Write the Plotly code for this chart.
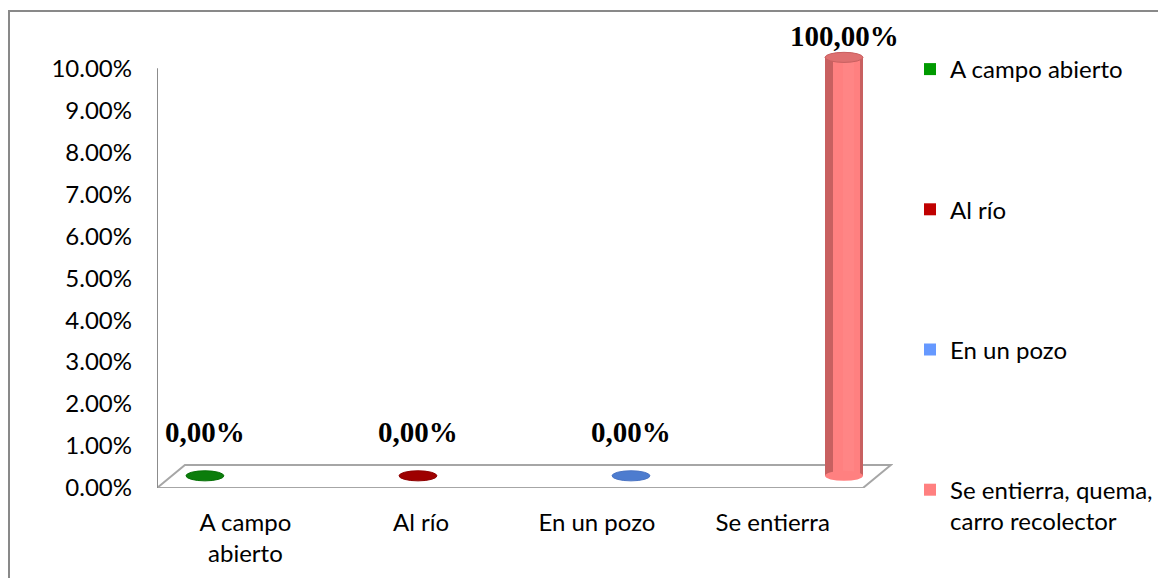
import plotly.graph_objects as go

# data
categories = ["A campo<br>abierto", "Al río", "En un pozo", "Se entierra"]
legend_names = ["A campo abierto", "Al río", "En un pozo",
                "Se entierra, quema,<br>carro recolector"]
values = [0.0, 0.0, 0.0, 1.0]
y_ticks = [0.00, 0.01, 0.02, 0.03, 0.04, 0.05, 0.06, 0.07, 0.08, 0.09, 0.10]

# style
body_colors = ["#009A00", "#C00000", "#6699FF", "#FF8080"]
edge_colors = ["#067006", "#8E0000", "#4A74C4", "#C86060"]
top_colors = ["#0B7D0B", "#9E0000", "#4D7CCF", "#DE7070"]

# the page body has an 8px margin, so the figure is drawn 8px in from the corner
OFF = 8
W, H = 1166 - 2 * OFF, 586 - 2 * OFF
L, T = 157 - OFF, 41 - OFF
R, B = W - (893 - OFF), H - (488 - OFF)
x_range = [-0.225, 3.23]
y_range = [0, 0.1065]
y_max = 0.10
cap = 0.1026        # where a clipped bar ends
base = 0.0029       # bars stand on the middle of the floor
bar_w = 0.178
ell_h = 0.0012
depth_x, depth_y = 0.131, 0.0055


def px_x(p):
    # screen pixel -> paper x
    return (p - OFF - L) / (W - L - R)


def px_y(p):
    # screen pixel -> paper y
    return (H - B - (p - OFF)) / (H - T - B)


fig = go.Figure()
shown = [min(v, cap - base) for v in values]

for i, (name, v) in enumerate(zip(legend_names, shown)):
    # darker rim behind the body gives the cylinder look
    fig.add_trace(go.Bar(x=[i], y=[v], base=[base], width=bar_w,
                         marker=dict(color=edge_colors[i], line_width=0),
                         showlegend=False, hoverinfo="skip"))
    fig.add_trace(go.Bar(x=[i + 0.012], y=[v], base=[base], width=bar_w * 0.72,
                         marker=dict(color=body_colors[i], line_width=0),
                         name=name, legendgroup=str(i)))
    fig.add_trace(go.Bar(x=[i + 0.02], y=[v], base=[base], width=bar_w * 0.3,
                         marker=dict(color="#FF8A8A", opacity=0.5, line_width=0),
                         showlegend=False, hoverinfo="skip"))

shapes = []
# floor
x0, x1 = x_range[0], 3.089
shapes.append(dict(type="path", xref="x", yref="y", layer="below",
                   path=f"M{x0},0 L{x0 + depth_x},{depth_y} L{x1 + depth_x},{depth_y} "
                        f"L{x1},0 Z",
                   line=dict(color="#A6A6A6", width=2), fillcolor="white"))
# y axis line
shapes.append(dict(type="line", xref="x", yref="y", x0=x0, x1=x0, y0=0, y1=y_max,
                   line=dict(color="#8C8C8C", width=2)))
# ellipses: bottom of cylinder and top face
for i, v in enumerate(shown):
    if v > 0:
        shapes.append(dict(type="circle", xref="x", yref="y",
                           x0=i - bar_w / 2, x1=i + bar_w / 2,
                           y0=base - ell_h, y1=base + ell_h,
                           fillcolor=body_colors[i], line_width=0))
    top = base + v
    shapes.append(dict(type="circle", xref="x", yref="y",
                       x0=i - bar_w / 2, x1=i + bar_w / 2,
                       y0=top - ell_h, y1=top + ell_h,
                       fillcolor=top_colors[i],
                       line=dict(color=edge_colors[i], width=1)))
# chart border (right and bottom edges fall outside the picture)
shapes.append(dict(type="rect", xref="paper", yref="paper",
                   x0=px_x(OFF + 1), x1=px_x(1200), y0=px_y(620), y1=px_y(11),
                   line=dict(color="#898989", width=2)))

annotations = []
for i, (v, s) in enumerate(zip(values, shown)):
    txt = f"{v * 100:.2f}".replace(".", ",") + "%"
    annotations.append(dict(x=i, y=base + s, xref="x", yref="y", text=txt,
                            showarrow=False, yshift=21 if v > cap else 44,
                            font=dict(family="Liberation Serif", size=29,
                                      color="black", weight="bold")))

front = [0.19 + 0.825 * i for i in range(len(categories))]

fig.update_layout(
    width=W, height=H,
    margin=dict(l=L, r=R, t=T, b=B, autoexpand=False),
    paper_bgcolor="white", plot_bgcolor="white",
    barmode="overlay", bargap=0,
    font=dict(family="Lato", size=24, color="black"),
    shapes=shapes, annotations=annotations,
    xaxis=dict(range=x_range, showgrid=False, zeroline=False, showline=False,
               tickvals=front, ticktext=categories, ticks="",
               ticklabelstandoff=18),
    yaxis=dict(range=y_range, showgrid=False, zeroline=False, showline=False,
               tickvals=y_ticks, ticktext=[f"{v:.2%}" for v in y_ticks],
               ticks="", ticklabelstandoff=24),
    legend=dict(x=px_x(910), y=px_y(47), xanchor="left", yanchor="top",
                tracegroupgap=106, valign="top", maxheight=900,
                font=dict(family="Lato", size=24)),
)

fig.write_html("out.html")
